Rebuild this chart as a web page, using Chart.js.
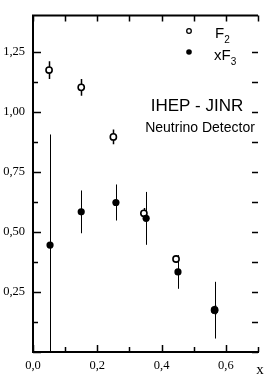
<!DOCTYPE html>
<html><head><meta charset="utf-8">
<script src="https://cdn.jsdelivr.net/npm/chart.js@4/dist/chart.umd.min.js"></script>
<style>html,body{margin:0;padding:0;background:#fff;}#wrap{width:264px;height:380px;position:relative;}</style>
</head><body><div id="wrap"><canvas id="c" width="264" height="380"></canvas></div>
<script>
// ---- data ----
const xF2    = [0.050, 0.150, 0.250, 0.345, 0.445, 0.565];
const F2     = [1.173, 1.101, 0.895, 0.577, 0.387, 0.175];
const F2err  = [0.037, 0.035, 0.031, 0.022, 0.016, 0.020];
const xXF3   = [0.053, 0.150, 0.258, 0.352, 0.451, 0.565];
const XF3    = [0.445, 0.583, 0.622, 0.556, 0.333, 0.174];
const XF3err = [0.460, 0.089, 0.075, 0.110, 0.070, 0.118];
const legendLabels = ['F', '2', 'xF', '3'];
const titleText = 'IHEP - JINR';
const subtitleText = 'Neutrino Detector';
const xAxisLabel = 'x';

const fmt = (v, d) => v.toFixed(d).replace('.', ',');

const f2Pts = xF2.map((x, i) => ({x: x, y: F2[i], e: F2err[i]}));
const f3Pts = xXF3.map((x, i) => ({x: x, y: XF3[i], e: XF3err[i]}));

const errorBars = {
  id: 'errorBars',
  beforeDatasetsDraw(chart) {
    const {ctx, chartArea: a, scales: {x, y}} = chart;
    ctx.save();
    ctx.beginPath(); ctx.rect(a.left, a.top, a.right - a.left, a.bottom - a.top); ctx.clip();
    ctx.strokeStyle = '#000';
    chart.data.datasets.forEach(ds => {
      ctx.lineWidth = ds.errWidth;
      ds.data.forEach(p => {
        const px = Math.round(x.getPixelForValue(p.x)) + 0.5;
        ctx.beginPath();
        ctx.moveTo(px, y.getPixelForValue(p.y - p.e));
        ctx.lineTo(px, y.getPixelForValue(p.y + p.e));
        ctx.stroke();
      });
    });
    ctx.restore();
  }
};

const frame = {
  id: 'frame',
  afterDraw(chart) {
    const {ctx, chartArea: a, scales: {x, y}} = chart;
    ctx.save();
    ctx.strokeStyle = '#000';
    ctx.lineWidth = 1.5;
    // y ticks (inward, left and right)
    y.ticks.forEach(t => {
      const k = Math.round(t.value * 8);
      if (Math.abs(t.value * 8 - k) > 1e-6) return;
      const py = Math.round(y.getPixelForValue(t.value)) + 0.5;
      const major = k % 2 === 0;
      ctx.beginPath();
      ctx.moveTo(a.left, py); ctx.lineTo(a.left + (major ? 8 : 5), py);
      ctx.moveTo(a.right, py); ctx.lineTo(a.right - 6, py);
      ctx.stroke();
    });
    // x ticks (inward, bottom and top)
    x.ticks.forEach(t => {
      const k = Math.round(t.value * 10);
      const px = Math.round(x.getPixelForValue(t.value)) + 0.5;
      const major = k % 2 === 0;
      ctx.beginPath();
      ctx.moveTo(px, a.bottom); ctx.lineTo(px, a.bottom - (major ? 7 : 5));
      ctx.moveTo(px, a.top); ctx.lineTo(px, a.top + 6);
      ctx.stroke();
    });
    // top border
    ctx.lineWidth = 2;
    ctx.beginPath(); ctx.moveTo(a.left - 1, a.top); ctx.lineTo(a.right, a.top); ctx.stroke();

    // legend
    ctx.fillStyle = '#000';
    ctx.lineWidth = 1.3;
    ctx.beginPath(); ctx.arc(189, 31, 2.3, 0, Math.PI * 2); ctx.stroke();
    ctx.beginPath(); ctx.arc(189, 52, 2.8, 0, Math.PI * 2); ctx.fill();
    ctx.textAlign = 'left'; ctx.textBaseline = 'alphabetic';
    ctx.font = '15px "Liberation Sans"';
    ctx.fillText(legendLabels[0], 215, 38);
    const wF = ctx.measureText(legendLabels[0]).width;
    ctx.fillText(legendLabels[2], 214, 59.5);
    const wXF = ctx.measureText(legendLabels[2]).width;
    ctx.font = '10px "Liberation Sans"';
    ctx.fillText(legendLabels[1], 215 + wF, 43);
    ctx.fillText(legendLabels[3], 214 + wXF, 65);

    // titles
    ctx.textAlign = 'center'; ctx.textBaseline = 'middle';
    ctx.font = '17px "Liberation Sans"';
    ctx.fillText(titleText, 197, 106);
    ctx.font = '14px "Liberation Sans"';
    ctx.fillText(subtitleText, 200, 128);

    // x axis label
    ctx.font = '15px "Liberation Serif"';
    ctx.fillText(xAxisLabel, 260, 370);
    ctx.restore();
  }
};

new Chart(document.getElementById('c'), {
  type: 'scatter',
  data: {
    datasets: [
      {label: 'xF3', data: f3Pts, order: 0, errWidth: 1, pointStyle: 'circle', pointRadius: 3.6,
       backgroundColor: '#000', borderColor: '#000', borderWidth: 0},
      {label: 'F2', data: f2Pts, order: 1, errWidth: 1.5, pointStyle: 'circle', pointRadius: 3.1,
       backgroundColor: '#fff', borderColor: '#000', borderWidth: 1.6}
    ]
  },
  options: {
    responsive: false,
    animation: false,
    layout: {padding: {top: 4, right: -2, left: 0, bottom: 0}},
    plugins: {legend: {display: false}, tooltip: {enabled: false}},
    scales: {
      x: {
        type: 'linear', min: 0, max: 0.7,
        afterFit(s) { s.height = 28; },
        grid: {display: false, drawTicks: false},
        border: {display: true, color: '#000', width: 2},
        ticks: {stepSize: 0.1, padding: 6, color: '#000', autoSkip: false, maxRotation: 0,
          font: {family: 'Liberation Serif', size: 12.5},
          callback: v => (Math.round(v * 10) % 2 === 0 ? fmt(v, 1) : '')}
      },
      y: {
        type: 'linear', min: 0, max: 1.4,
        afterFit(s) { s.width = 33; },
        grid: {display: false, drawTicks: false},
        border: {display: true, color: '#000', width: 2},
        ticks: {stepSize: 0.125, padding: 8, color: '#000', autoSkip: false,
          font: {family: 'Liberation Serif', size: 12.5},
          callback: v => {
            const k = Math.round(v * 4);
            return (Math.abs(v * 4 - k) < 1e-6 && v > 0) ? fmt(v, 2) : '';
          }}
      }
    }
  },
  plugins: [errorBars, frame]
});
</script></body></html>
